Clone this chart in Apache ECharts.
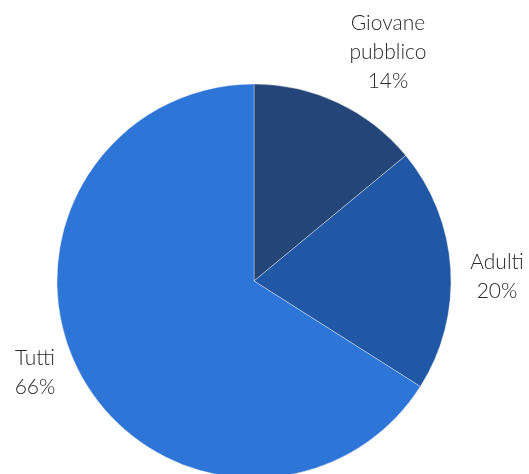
<!DOCTYPE html>
<html>
<head>
<meta charset="utf-8">
<script src="https://cdn.jsdelivr.net/npm/echarts@6/dist/echarts.min.js"></script>
<style>
  html, body { margin: 0; padding: 0; background: #ffffff; }
  #chart { width: 529px; height: 474px; }
</style>
</head>
<body>
<div id="chart"></div>
<script>
// Audience share by group
var categories = ['Giovane pubblico', 'Adulti', 'Tutti'];
var shares = [14, 20, 66];
var sliceColors = ['#244577', '#2058a6', '#2e75d8'];

// Label anchor points (centre of each text block)
var labelAnchors = [[388, 52], [497, 277], [35, 373]];

var chart = echarts.init(document.getElementById('chart'), null, { renderer: 'canvas' });

var seriesData = categories.map(function (name, i) {
  return { name: name, value: shares[i], itemStyle: { color: sliceColors[i] } };
});

chart.setOption({
  animation: false,
  series: [{
    type: 'pie',
    center: [254, 281],
    radius: [0, 197],
    startAngle: 90,
    clockwise: true,
    data: seriesData,
    itemStyle: { borderColor: 'rgba(255,255,255,0.6)', borderWidth: 0.6 },
    label: {
      show: true,
      position: 'outside',
      alignTo: 'none',
      overflow: 'none',
      fontFamily: 'Lato, "Open Sans", sans-serif',
      fontWeight: 300,
      fontSize: 21,
      lineHeight: 29,
      color: '#2a2a2a',
      align: 'center',
      formatter: function (p) {
        return p.name.replace(' ', '\n') + '\n' + p.value + '%';
      }
    },
    labelLine: { show: false },
    labelLayout: function (params) {
      var a = labelAnchors[params.dataIndex];
      return { x: a[0], y: a[1], align: 'center', verticalAlign: 'middle' };
    }
  }]
});
</script>
</body>
</html>
